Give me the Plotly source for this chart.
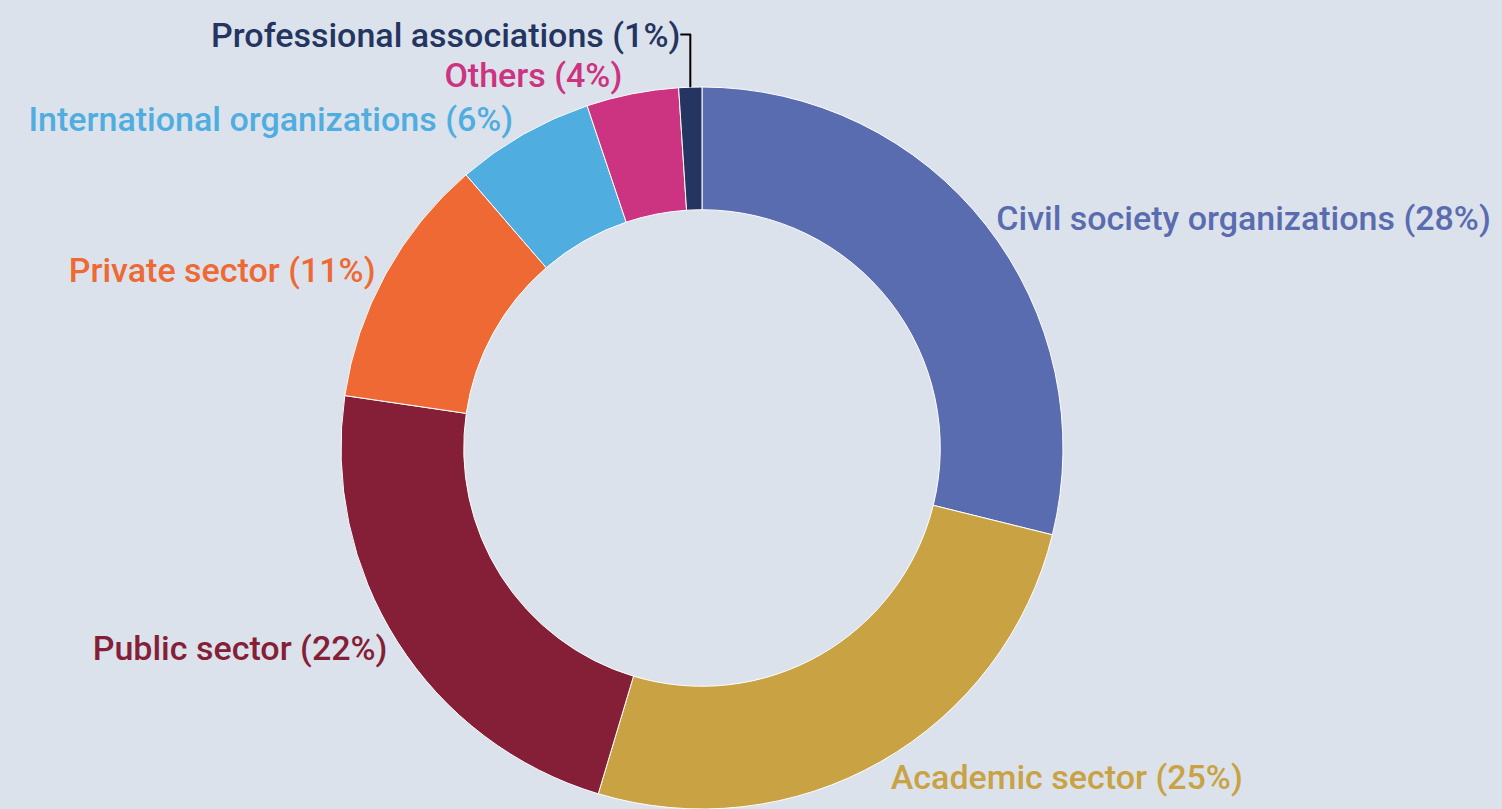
import plotly.graph_objects as go

categories = [
    "Civil society organizations",
    "Academic sector",
    "Public sector",
    "Private sector",
    "International organizations",
    "Others",
    "Professional associations",
]
shares = [28, 25, 22, 11, 6, 4, 1]
colors = ["#5a6cb0", "#c9a243", "#841f37", "#ee6934", "#4fade0", "#cc3380", "#233560"]
bg = "#dce2eb"

fig = go.Figure(
    go.Pie(
        labels=categories,
        values=shares,
        hole=0.66,
        sort=False,
        direction="clockwise",
        rotation=0,
        marker=dict(colors=colors, line=dict(color="white", width=1)),
        textposition="outside",
        texttemplate="%{label} (%{value}%)",
        outsidetextfont=dict(family="Roboto", size=34, color=colors, weight=500),
        showlegend=False,
        automargin=False,
    )
)

fig.update_layout(
    width=1502,
    height=809,
    paper_bgcolor=bg,
    plot_bgcolor=bg,
    margin=dict(l=0, r=98, t=87, b=0),
)

fig.write_html(
    "out.html",
    config={"displayModeBar": False},
    post_script="document.body.style.margin='0';document.body.style.background='%s';" % bg,
)
